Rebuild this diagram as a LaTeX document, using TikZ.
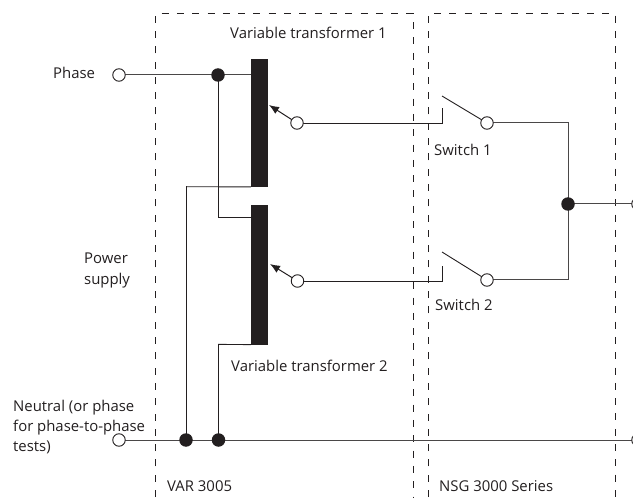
\documentclass[tikz,border=0pt]{standalone}
\usepackage{fontspec}
\setmainfont{Open Sans}
\usetikzlibrary{arrows.meta}
\definecolor{ink}{HTML}{231F20}
\definecolor{wire}{HTML}{4A4748}
\tikzset{
  x=1pt,y=-1pt,
  wireline/.style={draw=wire,line width=1pt},
  thinwire/.style={draw=ink,line width=0.9pt},
  frame/.style={draw=ink,line width=0.8pt,dash pattern=on 7pt off 8.3pt},
  term/.style={circle,draw=ink,fill=white,line width=0.9pt,minimum size=12.5pt,inner sep=0pt},
  junction/.style={circle,fill=ink,minimum size=13.5pt,inner sep=0pt},
  bar/.style={fill=ink,draw=none,inner sep=0pt,minimum width=17pt},
  lbl/.style={font=\fontsize{14.9}{20}\selectfont,text=ink,inner sep=0pt,align=left},
  arrowline/.style={draw=ink,line width=1pt,-{Latex[length=10pt,width=8pt]}},
}
\begin{document}
\begin{tikzpicture}
\useasboundingbox (0,0) rectangle (633,500);
\clip (0,0) rectangle (633,500);
% frames
\draw[frame] (155.5,497) -- (155.5,13.5) -- (413,13.5) -- (413,497);
\draw[frame] (428,497) -- (428,13.5) -- (615.5,13.5) -- (615.5,497);
% bars
\node[bar,minimum height=128pt] (b1) at (259.5,123) {};
\node[bar,minimum height=140pt] (b2) at (259.5,275) {};
% wires (drawn first so the terminals sit on top)
\coordinate (ctp) at (119,75);
\coordinate (cj1) at (218,75);
\coordinate (cw1) at (297,123);
\coordinate (cw2) at (297.5,281);
\coordinate (cs1) at (487,123);
\coordinate (cs2) at (487,280);
\coordinate (cj2) at (568,204);
\coordinate (cto) at (638,204);
\coordinate (ctn) at (119,440);
\coordinate (cj3) at (186,440);
\coordinate (cj4) at (218.5,440);
\coordinate (ctb) at (638,440);
\coordinate (a1) at (442,123);
\coordinate (a1t) at (442,108);
\coordinate (c1) at (442,96);
\coordinate (a2) at (442,281);
\coordinate (a2t) at (442,266);
\coordinate (c2) at (442,252);
\draw[wireline] (ctp) -- (b1.west |- ctp);
\draw[thinwire] (cj1) -- (218,217) -- (b2.west |- 0,217);
\draw[thinwire] (b1.south west) ++(0,-0.3) -- (186.5,186.7) -- (186.5,440);
\draw[thinwire] (b2.south west) ++(0,-0.6) -- (218.5,344.4) -- (cj4);
\draw[wireline] (ctn) -- (ctb);
\draw[thinwire] (cw1) -- (a1) -- (a1t);
\draw[thinwire] (cw2) -- (a2) -- (a2t);
\draw[thinwire] (c1) -- (cs1);
\draw[thinwire] (c2) -- (cs2);
\draw[wireline] (cs1) -- (568,123) -- (568,280) -- (cs2);
\draw[wireline] (cj2) -- (cto);
\draw[arrowline] (cw1) -- (269,105);
\draw[arrowline] (cw2) -- (270,264);
% terminals and junctions
\node[term] (tp) at (ctp) {};
\node[junction] (j1) at (cj1) {};
\node[term] (w1) at (cw1) {};
\node[term] (w2) at (cw2) {};
\node[term] (s1) at (cs1) {};
\node[term] (s2) at (cs2) {};
\node[junction] (j2) at (cj2) {};
\node[term] (to) at (cto) {};
\node[term] (tn) at (ctn) {};
\node[junction] (j3) at (cj3) {};
\node[junction] (j4) at (cj4) {};
\node[term] (tb) at (ctb) {};
% labels
\node[lbl,anchor=west] (l1) at (230,33) {Variable transformer 1};
\node[lbl,anchor=west] (l2) at (231,366) {Variable transformer 2};
\node[lbl,anchor=west] (l3) at (53,73) {Phase};
\node[lbl,anchor=west] (l4) at (84,270.5) {Power\\[1pt]supply};
\node[lbl,anchor=west] (l5) at (13,427) {Neutral (or phase\\for phase-to-phase\\tests)};
\node[lbl,anchor=west] (l6) at (434,150) {Switch 1};
\node[lbl,anchor=west] (l7) at (435,305) {Switch 2};
\node[lbl,anchor=west] (l8) at (167,486) {VAR 3005};
\node[lbl,anchor=west] (l9) at (439,486) {NSG 3000 Series};
\end{tikzpicture}
\end{document}
